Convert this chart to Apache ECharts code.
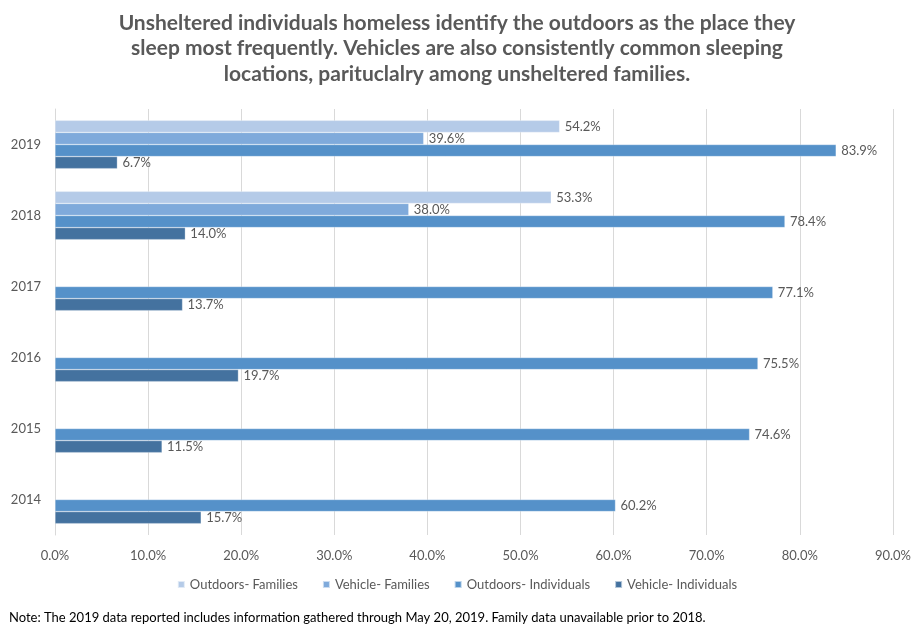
<!DOCTYPE html>
<html><head><meta charset="utf-8">
<script src="https://cdn.jsdelivr.net/npm/echarts@6/dist/echarts.min.js"></script>
<style>html,body{margin:0;padding:0;background:#fff}#c{width:914px;height:629px}</style>
</head><body><div id="c"></div>
<script>
const years = ['2014','2015','2016','2017','2018','2019'];
const outdoorsFamilies = [null,null,null,null,53.3,54.2];
const vehicleFamilies = [null,null,null,null,38.0,39.6];
const outdoorsIndividuals = [60.2,74.6,75.5,77.1,78.4,83.9];
const vehicleIndividuals = [15.7,11.5,19.7,13.7,14.0,6.7];
const xTicks = [0,10,20,30,40,50,60,70,80,90];

const F = "Lato,'Open Sans',sans-serif";
const chart = echarts.init(document.getElementById('c'));
const lbl = {show:true, position:'right', distance:5, color:'#595959', fontSize:13, fontFamily:F,
  formatter:p => p.value==null ? '' : p.value.toFixed(1)+'%'};
function s(name, data, color){
  return {name, type:'bar', data, itemStyle:{color, borderColor:'rgba(255,255,255,0.6)', borderWidth:0.5},
    label:lbl, barGap:'0%', barCategoryGap:'32%'};
}
chart.setOption({
  animation:false,
  title:{text:'Unsheltered individuals homeless identify the outdoors as the place they\nsleep most frequently. Vehicles are also consistently common sleeping\nlocations, parituclalry among unsheltered families.',
    left:'center', top:5,
    textStyle:{fontSize:21, fontWeight:'bold', color:'#595959', fontFamily:F, lineHeight:25.5, align:'center'}},
  grid:{left:55, right:17, top:109, bottom:94},
  legend:{bottom:33, left:'center', itemWidth:7, itemHeight:7, itemGap:24,
    icon:'rect', textStyle:{color:'#595959', fontSize:13, fontFamily:F},
    data:['Outdoors- Families','Vehicle- Families','Outdoors- Individuals','Vehicle- Individuals']},
  graphic:[{type:'text', left:9, top:611, style:{text:'Note: The 2019 data reported includes information gathered through May 20, 2019. Family data unavailable prior to 2018.', fill:'#000', fontSize:13, fontFamily:F}}],
  xAxis:{type:'value', min:xTicks[0], max:xTicks[xTicks.length-1], interval:10,
    axisLine:{show:false}, axisTick:{show:false},
    splitLine:{lineStyle:{color:'#d9d9d9'}},
    axisLabel:{color:'#595959', fontSize:13, fontFamily:F, margin:14, formatter:v=>v.toFixed(1)+'%'}},
  yAxis:{type:'category', data:years, axisTick:{show:false},
    axisLine:{show:true, lineStyle:{color:'#d9d9d9'}},
    axisLabel:{color:'#595959', fontSize:13, fontFamily:F, margin:14}},
  series:[
    s('Outdoors- Families', outdoorsFamilies, '#B5CBE8'),
    s('Vehicle- Families', vehicleFamilies, '#7FAADB'),
    s('Outdoors- Individuals', outdoorsIndividuals, '#5591C9'),
    s('Vehicle- Individuals', vehicleIndividuals, '#44729F')
  ]
});
</script></body></html>
